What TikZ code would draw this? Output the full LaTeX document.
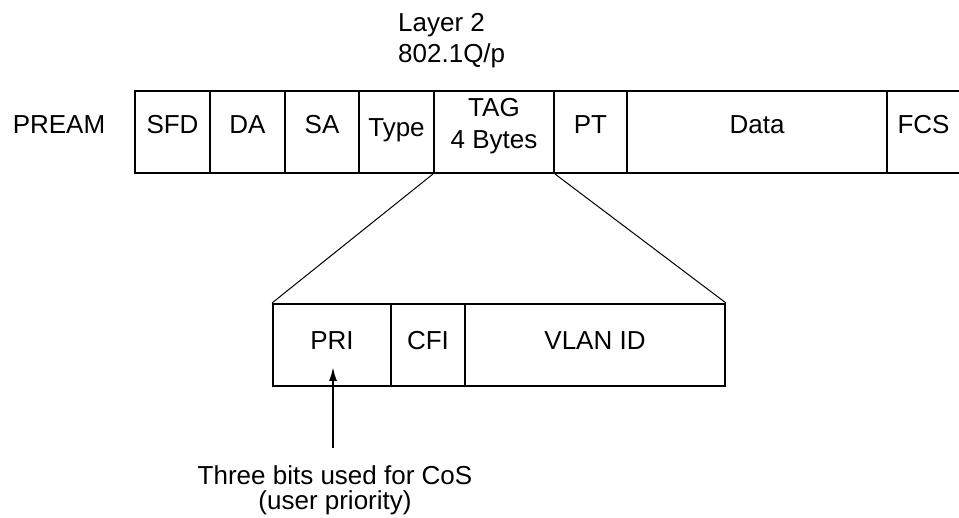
\documentclass[tikz,border=0pt]{standalone}
\usepackage{fontspec}
\setmainfont{Liberation Sans}
\usetikzlibrary{arrows.meta, positioning}
\tikzstyle{field} = [rectangle, draw=black, line width=2pt, minimum height=82pt, inner sep=0pt, text height=18.6pt, text depth=14.6pt, text centered]
\tikzstyle{fan} = [line width=1pt]
\tikzstyle{arrow} = [line width=2pt, -{Latex[length=14pt, width=8pt]}]

\begin{document}
\begin{tikzpicture}[x=1pt, y=-1pt, font=\fontsize{26}{32}\selectfont]
    \useasboundingbox (0,0) rectangle (959,518);

    % Heading
    \node[anchor=north west, inner sep=0pt, align=left, font=\fontsize{26}{31}\selectfont] (layer) at (398,13) {Layer 2\\802.1Q/p};

    % Ethernet frame
    \node[text height=18.6pt, text depth=14.6pt, inner sep=0pt] (pream) at (59,132) {PREAM};
    \node[field, minimum width=75pt] (sfd) at (172.5,132) {SFD};
    \node[field, minimum width=75pt] (da) at (247.5,132) {DA};
    \node[field, minimum width=74pt] (sa) at (322,132) {SA};
    \node[field, minimum width=75pt, text height=21.6pt, text depth=11.6pt] (type) at (396.5,132) {Type};
    \node[field, minimum width=120pt, align=center, text height=50.6pt, text depth=16.6pt] (tag) at (494,132) {TAG\\4 Bytes};
    \node[field, minimum width=73pt] (pt) at (590.5,132) {PT};
    \node[field, minimum width=260pt] (data) at (757,132) {Data};
    \node[field, minimum width=73pt] (fcs) at (923.5,132) {FCS};

    % Tag detail
    \node[field, minimum width=118pt, text height=21.6pt, text depth=11.6pt] (pri) at (332,345) {PRI};
    \node[field, minimum width=74pt, text height=21.6pt, text depth=11.6pt] (cfi) at (428,345) {CFI};
    \node[field, minimum width=260pt, text height=21.6pt, text depth=11.6pt] (vlan) at (595,345) {VLAN ID};

    \draw[fan] (tag.south west) -- (pri.north west);
    \draw[fan] (tag.south east) -- (vlan.north east);

    % CoS note
    \node[anchor=north, inner sep=0pt, align=center, font=\fontsize{26}{25}\selectfont] (cos) at (335,465) {Three bits used for CoS\\(user priority)};
    \coordinate (costail) at (333,448);
    \coordinate (pritip) at (333,367);
    \draw[arrow] (costail) -- (pritip);
\end{tikzpicture}
\end{document}
